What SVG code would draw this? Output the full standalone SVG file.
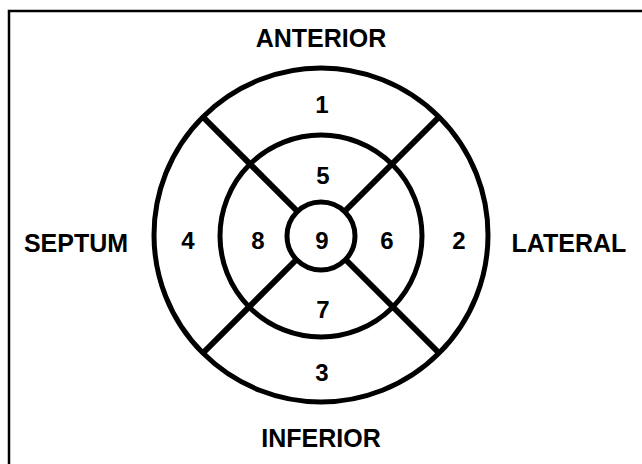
<svg xmlns="http://www.w3.org/2000/svg" width="642" height="464" viewBox="0 0 642 464">
<style>
.ring{fill:none;stroke:#000;stroke-width:5}
.div{stroke:#000;stroke-width:6;stroke-linecap:butt}
.lbl{font-family:"Liberation Sans",Arial,sans-serif;font-weight:bold;font-size:25px;text-anchor:middle;fill:#000}
.num{font-family:"Liberation Sans",Arial,sans-serif;font-weight:bold;font-size:24px;text-anchor:middle;fill:#000}
</style>
<rect x="0" y="0" width="642" height="464" fill="#fff"/>
<rect x="9" y="11" width="700" height="500" fill="none" stroke="#000" stroke-width="2.5"/>
<g id="connectors">
<line class="div" x1="297" y1="211" x2="203" y2="117"/>
<line class="div" x1="345" y1="211" x2="439" y2="117"/>
<line class="div" x1="297" y1="259" x2="203" y2="353"/>
<line class="div" x1="345" y1="259" x2="439" y2="353"/>
</g>
<g id="outer-ring"><circle class="ring" cx="321" cy="235" r="167"/></g>
<g id="middle-ring"><circle class="ring" cx="321" cy="236" r="101"/></g>
<g id="seg9"><circle class="ring" cx="321" cy="236" r="34"/><text class="num" x="322" y="249">9</text></g>
<g id="seg1"><text class="num" x="322" y="113">1</text></g>
<g id="seg2"><text class="num" x="459" y="249">2</text></g>
<g id="seg3"><text class="num" x="322" y="381">3</text></g>
<g id="seg4"><text class="num" x="188" y="249">4</text></g>
<g id="seg5"><text class="num" x="323" y="184">5</text></g>
<g id="seg6"><text class="num" x="387" y="249">6</text></g>
<g id="seg7"><text class="num" x="323" y="318">7</text></g>
<g id="seg8"><text class="num" x="258" y="249">8</text></g>
<g id="anterior"><text class="lbl" x="321" y="47">ANTERIOR</text></g>
<g id="septum"><text class="lbl" x="76" y="252">SEPTUM</text></g>
<g id="lateral"><text class="lbl" x="569" y="252">LATERAL</text></g>
<g id="inferior"><text class="lbl" x="321" y="447">INFERIOR</text></g>
</svg>
